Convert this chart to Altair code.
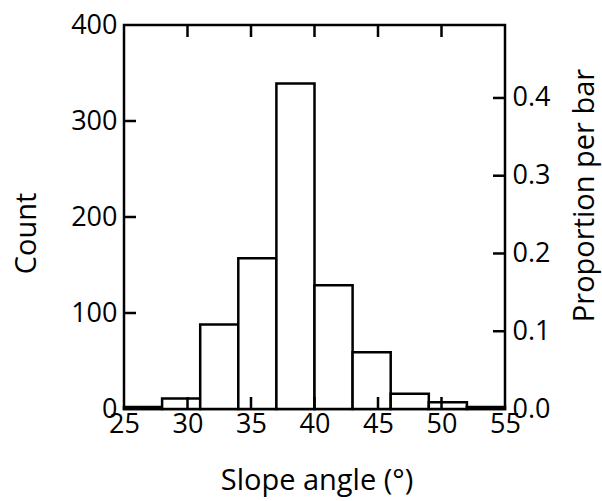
import altair as alt
import pandas as pd

# ---- data ----
bin_start = [25, 28, 31, 34, 37, 40, 43, 46, 49, 52]
bin_end = [28, 31, 34, 37, 40, 43, 46, 49, 52, 55]
counts = [2, 11, 88, 157, 339, 129, 59, 16, 7, 2]

x_label_values = [25, 30, 35, 40, 45, 50, 55]
x_tick_values = [30, 35, 40, 45, 50]
count_label_values = [0, 100, 200, 300, 400]
count_tick_values = [100, 200, 300]
prop_label_values = [0.0, 0.1, 0.2, 0.3, 0.4]
prop_tick_values = [0.1, 0.2, 0.3, 0.4]

N = sum(counts)
W, H = 381, 384
FONT = "Open Sans"
LW = 2.5
TICK = 12

bars_df = pd.DataFrame({"start": bin_start, "end": bin_end, "count": counts})
xt_df = pd.DataFrame({"t": x_tick_values})
ct_df = pd.DataFrame({"c": count_tick_values})
pt_df = pd.DataFrame({"p": prop_tick_values})

x_scale = alt.Scale(domain=[25, 55], nice=False, zero=False)
y_scale = alt.Scale(domain=[0, 400], nice=False)
p_scale = alt.Scale(domain=[0, 400 / N], nice=False)

common_axis = dict(
    ticks=False, domain=False, grid=False, tickSize=0,
    labelFont=FONT, labelFontSize=27, labelColor="black",
    titleFont=FONT, titleFontSize=29, titleColor="black", titleFontWeight="normal",
    labelFlush=False, labelOverlap=False,
)

bars = alt.Chart(bars_df).mark_rect(
    fill="white", stroke="black", strokeWidth=LW
).encode(
    x=alt.X("start:Q", scale=x_scale,
            axis=alt.Axis(values=x_label_values, format="d", title="Slope angle (°)",
                          labelPadding=2, titleX=W / 2 + 2, titleY=80,
                          titleAlign="center", titleBaseline="alphabetic",
                          **common_axis)),
    x2="end:Q",
    y=alt.Y("count:Q", scale=y_scale,
            axis=alt.Axis(values=count_label_values, format="d", title="Count",
                          labelPadding=7, titleAngle=270, titleX=-89, titleY=208,
                          titleAlign="center", titleBaseline="alphabetic",
                          **common_axis)),
    y2=alt.datum(0),
)

top_ticks = alt.Chart(xt_df).mark_rule(color="black", strokeWidth=LW).encode(
    x=alt.X("t:Q", scale=x_scale),
    y=alt.value(0), y2=alt.value(TICK),
)
bottom_ticks = alt.Chart(xt_df).mark_rule(color="black", strokeWidth=LW).encode(
    x=alt.X("t:Q", scale=x_scale),
    y=alt.value(H), y2=alt.value(H - TICK),
)
left_ticks = alt.Chart(ct_df).mark_rule(color="black", strokeWidth=LW).encode(
    y=alt.Y("c:Q", scale=y_scale),
    x=alt.value(0), x2=alt.value(TICK),
)

count_layer = alt.layer(bars, top_ticks, bottom_ticks, left_ticks)

right_ticks = alt.Chart(pt_df).mark_rule(color="black", strokeWidth=LW).encode(
    y=alt.Y("p:Q", scale=p_scale,
            axis=alt.Axis(orient="right", values=prop_label_values, format=".1f",
                          title="Proportion per bar", labelPadding=7,
                          titleAngle=270, titleX=88, titleY=170,
                          titleAlign="center", titleBaseline="alphabetic",
                          **common_axis)),
    x=alt.value(W - TICK), x2=alt.value(W),
)

chart = alt.layer(count_layer, right_ticks).resolve_scale(
    y="independent"
).properties(
    width=W, height=H,
    autosize=alt.AutoSizeParams(type="none"),
    padding={"left": 124, "top": 25, "right": 602 - 124 - W, "bottom": 501 - 25 - H},
    background="white",
).configure_view(
    stroke="black", strokeWidth=LW
)

chart.save("out.html", embed_options={"renderer": "svg", "actions": False})
